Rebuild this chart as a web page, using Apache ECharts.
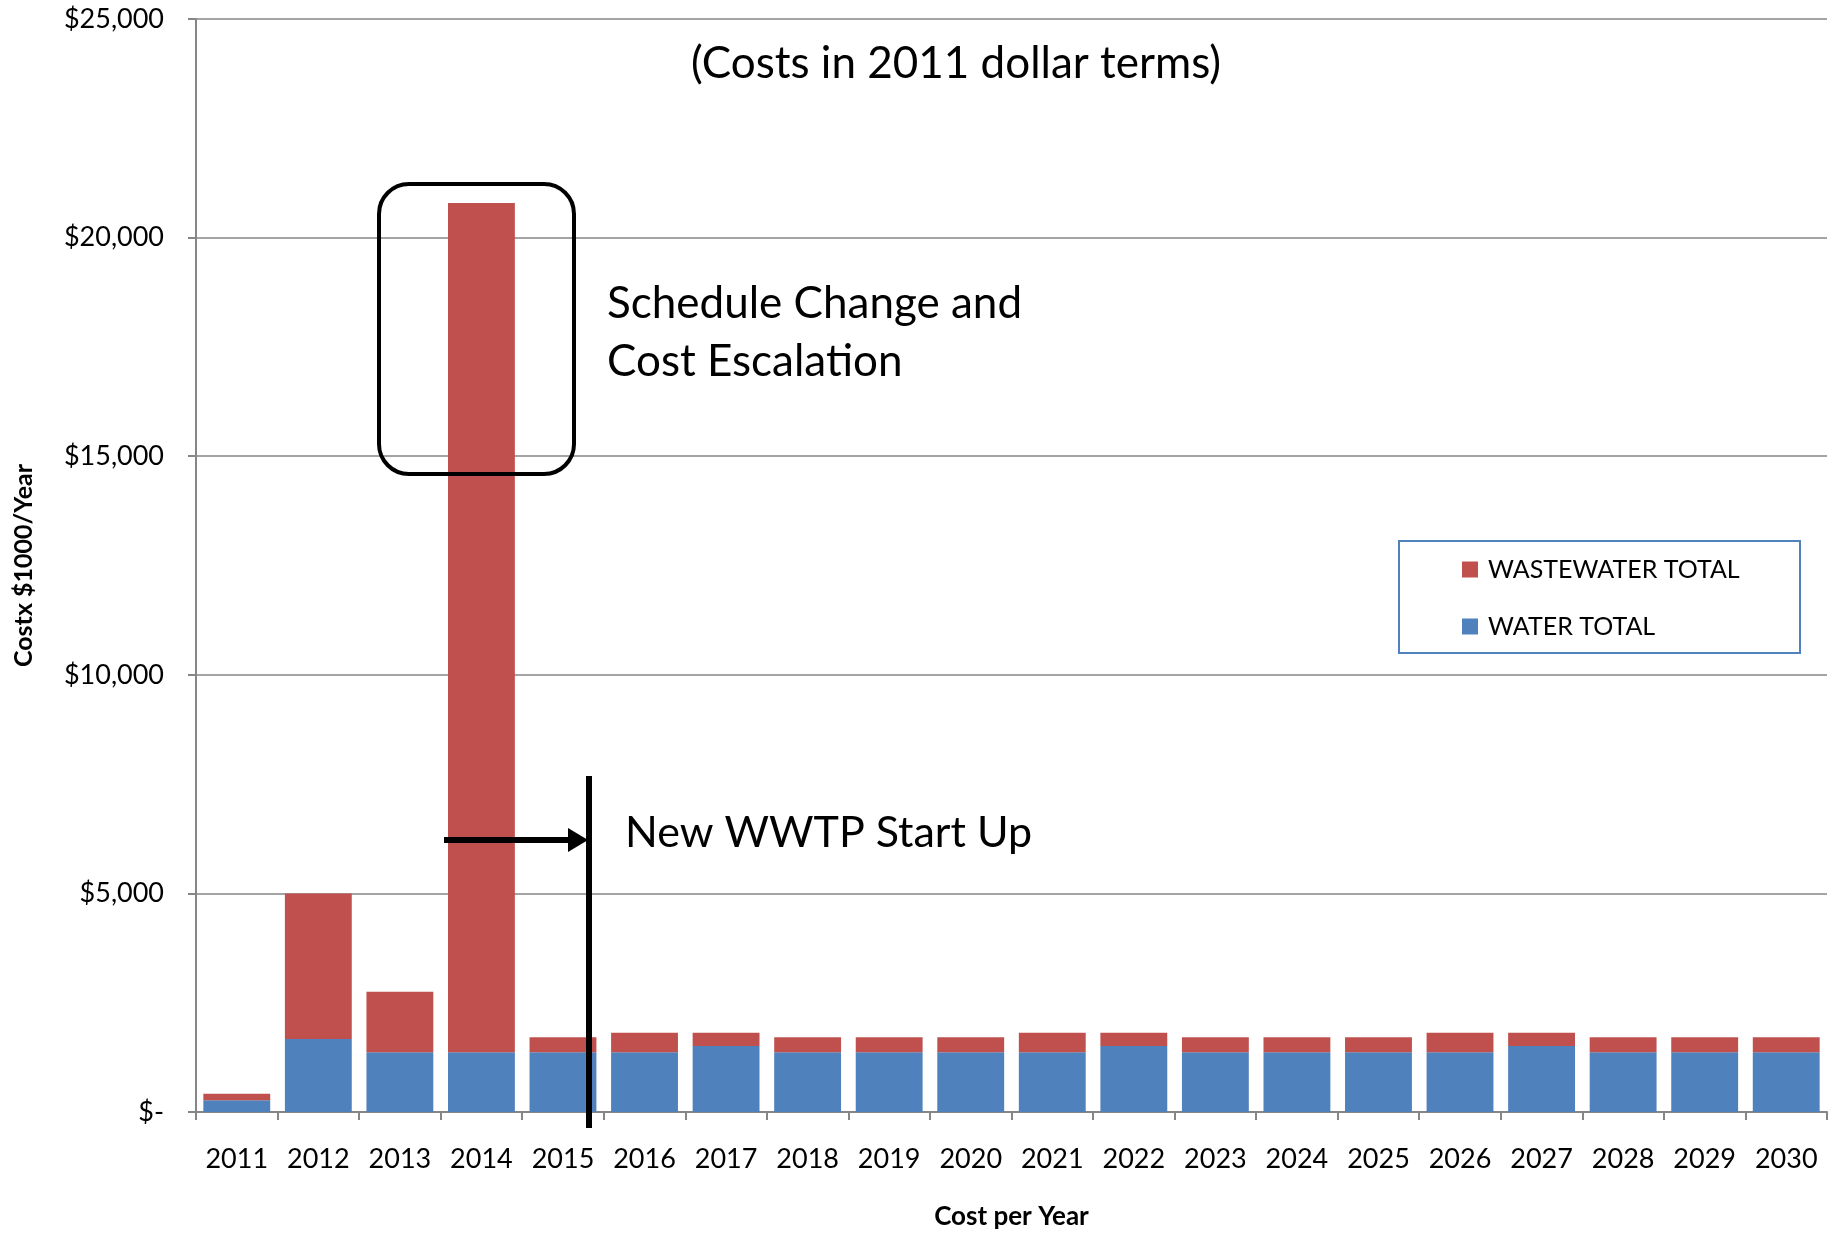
<!DOCTYPE html>
<html>
<head>
<meta charset="utf-8">
<title>Cost per Year</title>
<script src="https://cdn.jsdelivr.net/npm/echarts@6/dist/echarts.min.js"></script>
<style>
  html, body { margin: 0; padding: 0; background: #fff; }
  #main { width: 1839px; height: 1233px; }
</style>
</head>
<body>
<div id="main"></div>
<script>
// data, $1000/year
const years = ['2011', '2012', '2013', '2014', '2015', '2016', '2017', '2018', '2019', '2020',
               '2021', '2022', '2023', '2024', '2025', '2026', '2027', '2028', '2029', '2030'];
const water = [270, 1670, 1365, 1365, 1365, 1365, 1510, 1365, 1365, 1365,
               1365, 1510, 1365, 1365, 1365, 1365, 1510, 1365, 1365, 1365];
const wastewater = [150, 3330, 1385, 19425, 345, 450, 305, 345, 345, 345,
                    450, 305, 345, 345, 345, 450, 305, 345, 345, 345];
const yMax = 25000;
const yStep = 5000;

const FONT = 'Lato, "Noto Sans", sans-serif';
const RED = '#C0504D';
const BLUE = '#4F81BD';
const AXIS_GREY = '#868686';

function money(v) {
  if (v === 0) return '$-';
  return '$' + v.toLocaleString('en-US');
}

const chart = echarts.init(document.getElementById('main'));

const option = {
  animation: false,
  textStyle: { fontFamily: FONT, color: '#000' },
  grid: { left: 196, right: 12, top: 19, bottom: 121, containLabel: false, outerBoundsMode: 'none' },
  legend: {
    data: ['WASTEWATER TOTAL', 'WATER TOTAL'],
    orient: 'vertical',
    left: 1462,
    top: 557,
    padding: 0,
    itemWidth: 16,
    itemHeight: 16,
    itemGap: 32,
    icon: 'rect',
    textStyle: { fontFamily: FONT, fontSize: 25, lineHeight: 24, color: '#000', padding: [0, 0, 0, 5] }
  },
  xAxis: {
    type: 'category',
    data: years,
    name: 'Cost per Year',
    nameLocation: 'middle',
    nameGap: 92,
    nameTextStyle: { fontFamily: FONT, fontSize: 26, fontWeight: 'bold', color: '#000' },
    axisLine: { lineStyle: { color: AXIS_GREY, width: 2 } },
    axisTick: { show: true, inside: false, length: 8, lineStyle: { color: AXIS_GREY, width: 2 } },
    axisLabel: { fontFamily: FONT, fontSize: 27, color: '#000', margin: 34 },
    splitLine: { show: false }
  },
  yAxis: {
    type: 'value',
    min: 0,
    max: yMax,
    interval: yStep,
    name: 'Costx $1000/Year',
    nameLocation: 'middle',
    nameRotate: 90,
    nameGap: 160,
    nameTextStyle: { fontFamily: FONT, fontSize: 25, fontWeight: 'bold', color: '#000' },
    axisLine: { show: true, lineStyle: { color: AXIS_GREY, width: 2 } },
    axisTick: { show: true, inside: false, length: 8, lineStyle: { color: AXIS_GREY, width: 2 } },
    axisLabel: { fontFamily: FONT, fontSize: 27, color: '#000', margin: 32, formatter: money },
    splitLine: { show: true, lineStyle: { color: AXIS_GREY, width: 1.5 } }
  },
  series: [
    {
      name: 'WATER TOTAL',
      type: 'bar',
      stack: 'cost',
      data: water,
      barCategoryGap: '18%',
      itemStyle: { color: BLUE }
    },
    {
      name: 'WASTEWATER TOTAL',
      type: 'bar',
      stack: 'cost',
      data: wastewater,
      barCategoryGap: '18%',
      itemStyle: { color: RED }
    }
  ],
  graphic: [
    // title note
    {
      type: 'text', z: 10, x: 956, y: 64,
      style: { text: '(Costs in 2011 dollar terms)', font: '44px ' + FONT, fill: '#000',
               textAlign: 'center', textVerticalAlign: 'middle' }
    },
    // rounded box around the 2014 peak
    {
      type: 'rect', z: 20,
      shape: { x: 379, y: 184, width: 195, height: 290, r: 30 },
      style: { fill: 'none', stroke: '#000', lineWidth: 4 }
    },
    {
      type: 'text', z: 20, x: 607, y: 304,
      style: { text: 'Schedule Change and', font: '44px ' + FONT, fill: '#000', textVerticalAlign: 'middle' }
    },
    {
      type: 'text', z: 20, x: 607, y: 362,
      style: { text: 'Cost Escalation', font: '44px ' + FONT, fill: '#000', textVerticalAlign: 'middle' }
    },
    // start-up marker line and arrow
    {
      type: 'line', z: 20,
      shape: { x1: 589, y1: 776, x2: 589, y2: 1128 },
      style: { stroke: '#000', lineWidth: 6 }
    },
    {
      type: 'line', z: 20,
      shape: { x1: 444, y1: 840, x2: 572, y2: 840 },
      style: { stroke: '#000', lineWidth: 6 }
    },
    {
      type: 'polygon', z: 20,
      shape: { points: [[568, 828], [588, 840], [568, 852]] },
      style: { fill: '#000' }
    },
    {
      type: 'text', z: 20, x: 625, y: 833,
      style: { text: 'New WWTP Start Up', font: '43px ' + FONT, fill: '#000', textVerticalAlign: 'middle' }
    },
    // legend frame
    {
      type: 'rect', z: 1,
      shape: { x: 1399, y: 541, width: 401, height: 112 },
      style: { fill: 'none', stroke: BLUE, lineWidth: 2 }
    }
  ]
};

chart.setOption(option);
</script>
</body>
</html>
